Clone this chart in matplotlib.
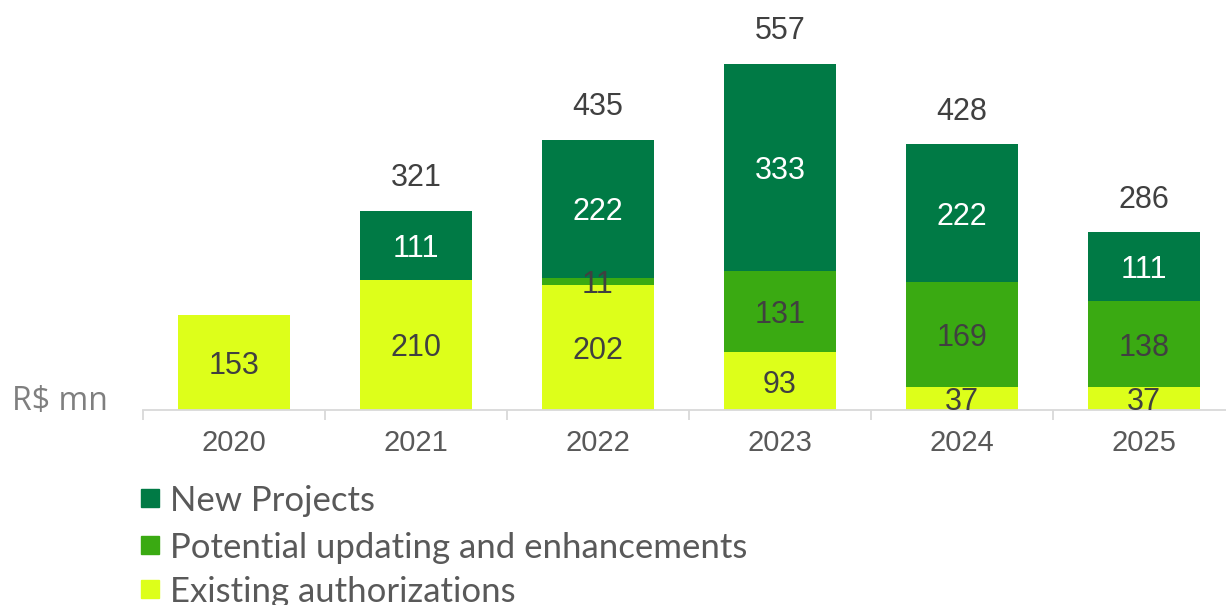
import matplotlib
matplotlib.use("Agg")
import matplotlib.pyplot as plt
from matplotlib.patches import Rectangle

years = ["2020", "2021", "2022", "2023", "2024", "2025"]
existing = [153, 210, 202, 93, 37, 37]
potential = [0, 0, 11, 131, 169, 138]
new_projects = [0, 111, 222, 333, 222, 111]
totals = [153, 321, 435, 557, 428, 286]

series_names = ["New Projects", "Potential updating and enhancements", "Existing authorizations"]

COLORS = {
    "new": "#007A45",
    "potential": "#3AAA12",
    "existing": "#DDFF1A",
}
TEXT_DARK = "#404040"
TICK_GRAY = "#595959"

W, H = 1226, 605
fig = plt.figure(figsize=(W / 100, H / 100), dpi=100)
ax = fig.add_axes([143 / W, 195 / H, 1092 / W, 410 / H])

x = list(range(len(years)))
w = 0.62
bottoms2 = existing
bottoms3 = [a + b for a, b in zip(existing, potential)]

ax.bar(x, existing, w, color=COLORS["existing"])
ax.bar(x, potential, w, bottom=bottoms2, color=COLORS["potential"])
ax.bar(x, new_projects, w, bottom=bottoms3, color=COLORS["new"])

lab_font = dict(family="Liberation Sans", fontsize=22)
for i in x:
    ax.text(i, existing[i] / 2, str(existing[i]), ha="center", va="center_baseline",
            color=TEXT_DARK, **lab_font)
    if potential[i]:
        ax.text(i, bottoms2[i] + potential[i] / 2, str(potential[i]), ha="center",
                va="center_baseline", color=TEXT_DARK, **lab_font)
    if new_projects[i]:
        ax.text(i, bottoms3[i] + new_projects[i] / 2, str(new_projects[i]),
                ha="center", va="center_baseline", color="white", **lab_font)
        # total only shown on stacked columns
        ax.annotate(str(totals[i]), (i, totals[i]), xytext=(0, 26),
                    textcoords="offset points", ha="center", va="center_baseline",
                    color=TEXT_DARK, **lab_font)

ax.set_xlim(-0.5, 5.5)
ax.set_ylim(0, 660)
for s in ["top", "right", "left"]:
    ax.spines[s].set_visible(False)
ax.spines["bottom"].set_color("#D9D9D9")
ax.spines["bottom"].set_linewidth(1.3)
ax.set_yticks([])
ax.set_xticks(x)
ax.set_xticklabels(years, family="Liberation Sans", fontsize=21, color=TICK_GRAY)
ax.tick_params(axis="x", length=0, pad=14)
ax.set_xticks([i - 0.5 for i in range(7)], minor=True)
ax.tick_params(axis="x", which="minor", length=7, color="#D9D9D9", width=1.3)

fig.text(12 / W, 1 - 402 / H, "R$ mn", ha="left", va="center",
         family="Open Sans", fontsize=23, color="#7F7F7F")

# legend drawn by hand so rows sit where the reference has them
leg_colors = [COLORS["new"], COLORS["potential"], COLORS["existing"]]
row_y = [498, 545, 589]
for name, col, yy in zip(series_names, leg_colors, row_y):
    fig.add_artist(Rectangle((141 / W, 1 - (yy + 9) / H), 18 / W, 18 / H,
                             transform=fig.transFigure, color=col))
    fig.text(170 / W, 1 - yy / H, name, ha="left", va="center_baseline",
             family="Lato", fontsize=25, color=TICK_GRAY)

fig.savefig("out.png", dpi=100)
